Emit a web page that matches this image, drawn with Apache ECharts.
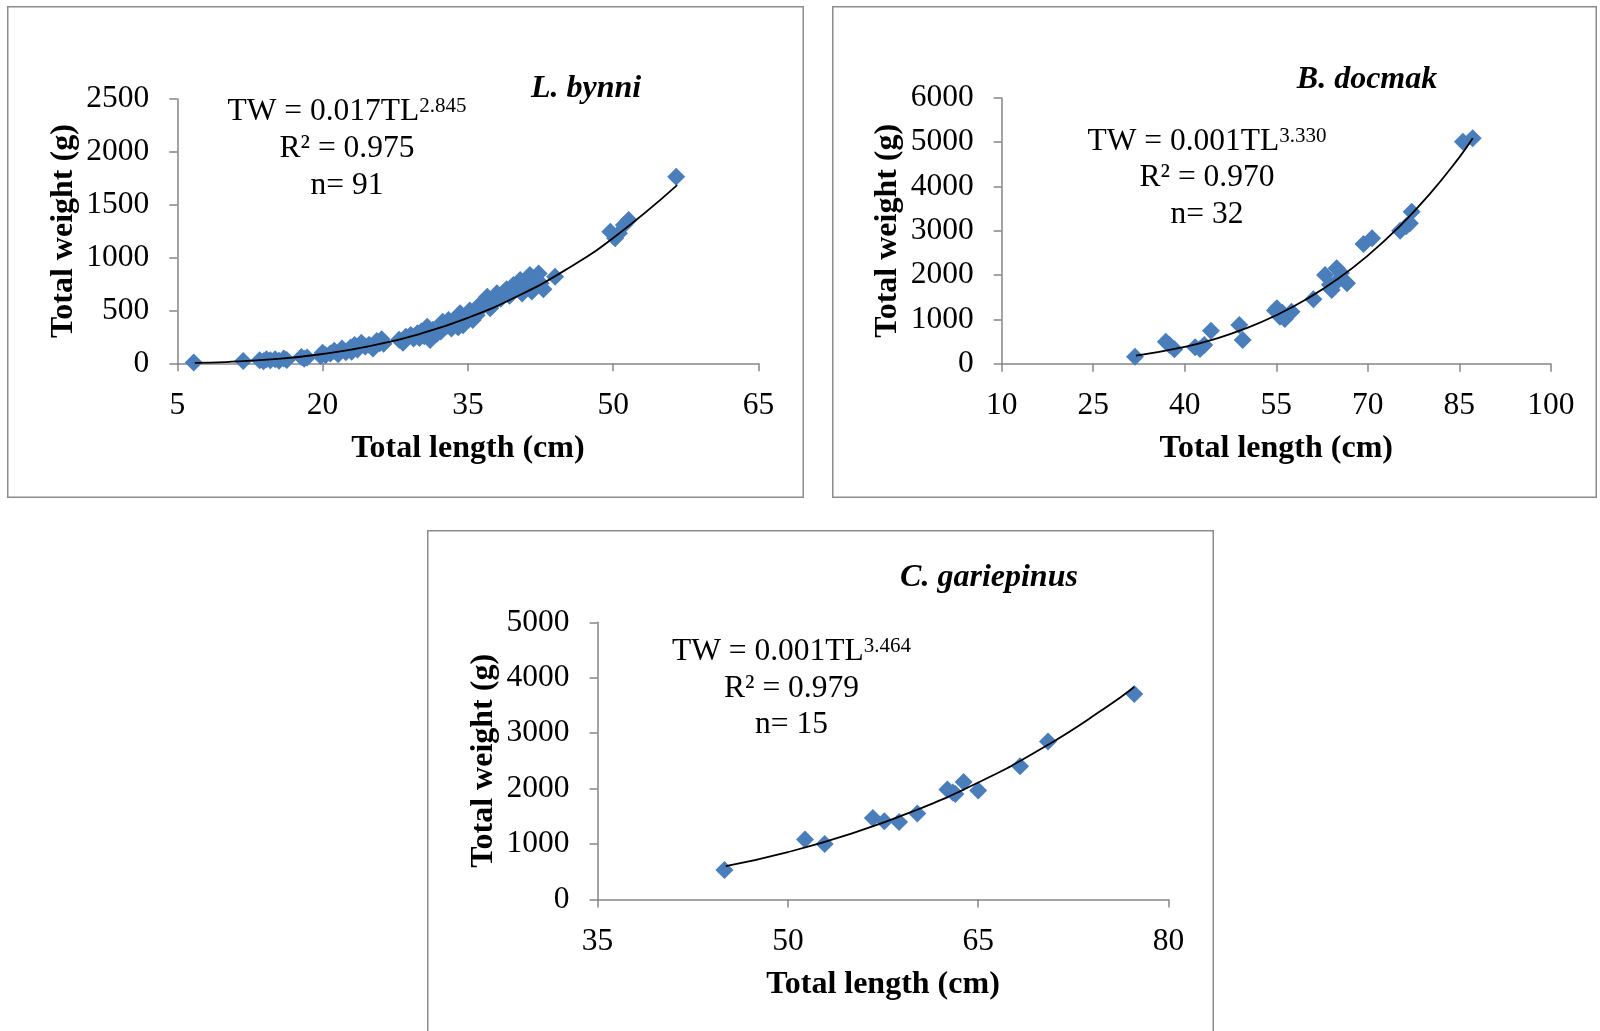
<!DOCTYPE html>
<html>
<head>
<meta charset="utf-8">
<title>Length–weight relationships</title>
<script src="https://cdn.jsdelivr.net/npm/echarts@6/dist/echarts.min.js"></script>
<style>
  html, body { margin: 0; padding: 0; background: #ffffff; }
  #chart { width: 1600px; height: 1031px; }
</style>
</head>
<body>
<div id="chart"></div>
<script>
// ---- L. bynni: total length (cm) vs total weight (g) ----
const bynniPoints = [
  [6.7, 8], [11.8, 22], [13.5, 30], [13.9, 20], [14.2, 38], [14.6, 28], [15.1, 38], [15.5, 25],
  [16.0, 45], [16.3, 32], [17.8, 60], [18.1, 42], [18.4, 55], [19.8, 70], [20.0, 100], [20.3, 75],
  [20.8, 92], [21.2, 118], [21.6, 85], [22.0, 140], [22.4, 105], [22.9, 150], [23.0, 110], [23.3, 172],
  [23.6, 130], [24.0, 195], [24.4, 160], [24.8, 175], [25.2, 140], [25.6, 210], [25.9, 190], [26.1, 228],
  [26.3, 185], [27.9, 222], [28.3, 195], [28.6, 250], [29.1, 268], [29.4, 235], [29.8, 284], [30.0, 240],
  [30.2, 300], [30.5, 255], [30.8, 346], [31.1, 220], [31.4, 318], [31.8, 280], [32.2, 300], [32.4, 394],
  [32.8, 350], [33.0, 410], [33.3, 330], [33.6, 380], [33.9, 441], [34.0, 340], [34.2, 473], [34.5, 360],
  [34.8, 420], [35.2, 500], [35.5, 410], [35.9, 455], [36.0, 490], [36.3, 560], [36.8, 600], [37.0, 630],
  [37.3, 520], [37.6, 560], [38.0, 662], [38.4, 610], [38.8, 680], [39.0, 700], [39.3, 640], [39.7, 741],
  [40.0, 700], [40.4, 788], [40.6, 660], [40.9, 720], [41.2, 760], [41.4, 835], [41.6, 680], [41.9, 804],
  [42.1, 740], [42.3, 850], [42.5, 757], [42.8, 700], [44.0, 819], [49.7, 1245], [50.2, 1182], [50.6, 1230],
  [51.1, 1308], [51.6, 1356], [56.5, 1765]
];
const bynniTrend = [
  [6.8, 4], [10, 12], [15, 39], [20, 88], [25, 165], [30, 277], [35, 430],
  [40, 629], [45, 879], [50, 1186], [56.6, 1686]
];
const bynniXTicks = { min: 5, max: 65, step: 15 };
const bynniYTicks = { min: 0, max: 2500, step: 500 };
const bynniText = ['L. bynni', 'TW = 0.017TL', '2.845', 'R² = 0.975', 'n= 91'];

// ---- B. docmak ----
const docmakPoints = [
  [31.85, 158], [36.9, 497], [37.5, 420], [38.3, 325], [41.7, 370], [42.5, 330], [43.2, 422], [44.3, 745],
  [48.95, 874], [49.5, 535], [54.8, 1200], [55.1, 1250], [55.6, 1061], [56.0, 1150], [56.4, 1009], [57.5, 1174],
  [61.1, 1454], [63.0, 2002], [63.8, 1780], [64.1, 1664], [64.9, 2153], [65.2, 1889], [65.6, 2050], [66.6, 1815],
  [69.3, 2702], [70.7, 2830], [75.3, 3003], [76.3, 3100], [76.9, 3169], [77.2, 3432], [85.6, 5011], [87.2, 5088]
];
const docmakTrend = [
  [32, 180], [40, 378], [45, 560], [50, 796], [55, 1093], [60, 1460], [65, 1906],
  [70, 2440], [75, 3070], [80, 3806], [85, 4658], [87.2, 5088]
];
const docmakXTicks = { min: 10, max: 100, step: 15 };
const docmakYTicks = { min: 0, max: 6000, step: 1000 };
const docmakText = ['B. docmak', 'TW = 0.001TL', '3.330', 'R² = 0.970', 'n= 32'];

// ---- C. gariepinus ----
const gariepinusPoints = [
  [45.0, 530], [51.35, 1081], [52.9, 1003], [56.7, 1472], [57.6, 1411], [58.76, 1400], [60.2, 1550],
  [62.57, 1982], [63.0, 1930], [63.2, 1904], [63.85, 2120], [65.0, 1964], [68.3, 2402], [70.5, 2852], [77.3, 3706]
];
const gariepinusTrend = [
  [45.1, 600], [50, 855], [55, 1188], [60, 1602], [65, 2110], [70, 2722], [75, 3452], [77.3, 3832]
];
const gariepinusXTicks = { min: 35, max: 80, step: 15 };
const gariepinusYTicks = { min: 0, max: 5000, step: 1000 };
const gariepinusText = ['C. gariepinus', 'TW = 0.001TL', '3.464', 'R² = 0.979', 'n= 15'];

const axisTitles = ['Total length (cm)', 'Total weight (g)'];

// ---- styling ----
const SERIF = "'Liberation Serif', 'Times New Roman', serif";
const AXIS_GREY = '#868686';
const FRAME_GREY = '#8c8c8c';
const MARKER_BLUE = '#4a7ebb';
const EQ_FONT = "31.5px " + SERIF;
const SUP_FONT = "21px " + SERIF;
const SPECIES_FONT = "italic bold 32px " + SERIF;

const measureCtx = document.createElement('canvas').getContext('2d');
function textWidth(str, font) {
  measureCtx.font = font;
  return measureCtx.measureText(str).width;
}

function textEl(x, y, text, font, align) {
  return {
    type: 'text', x: x, y: y, silent: true,
    style: {
      text: text, font: font, fill: '#000000',
      align: align, textAlign: align,
      verticalAlign: 'middle', textVerticalAlign: 'middle'
    }
  };
}

// species name, power equation with superscript exponent, R² and sample size
function panelText(t, nameX, nameY, cx, eqY, lineStep) {
  const wMain = textWidth(t[1], EQ_FONT);
  const wSup = textWidth(t[2], SUP_FONT);
  const left = cx - (wMain + wSup) / 2;
  return [
    textEl(nameX, nameY, t[0], SPECIES_FONT, 'center'),
    textEl(left, eqY, t[1], EQ_FONT, 'left'),
    textEl(left + wMain, eqY - 5.5, t[2], SUP_FONT, 'left'),
    textEl(cx, eqY + lineStep, t[3], EQ_FONT, 'center'),
    textEl(cx, eqY + 2 * lineStep, t[4], EQ_FONT, 'center')
  ];
}

function frame(x, y, w, h) {
  return {
    type: 'rect', silent: true,
    shape: { x: x, y: y, width: w, height: h },
    style: { fill: 'none', stroke: FRAME_GREY, lineWidth: 1.5 }
  };
}

function plainNumber(v) {
  return String(v);
}

function xAxisFor(idx, ticks) {
  return {
    type: 'value', gridIndex: idx,
    min: ticks.min, max: ticks.max, interval: ticks.step,
    name: axisTitles[0], nameLocation: 'middle', nameGap: 69,
    nameTextStyle: { fontFamily: SERIF, fontSize: 32, fontWeight: 'bold', color: '#000000' },
    axisLine: { show: true, onZero: false, lineStyle: { color: AXIS_GREY, width: 1.5 } },
    axisTick: { show: true, inside: false, length: 8, lineStyle: { color: AXIS_GREY, width: 1.5 } },
    axisLabel: {
      fontFamily: SERIF, fontSize: 31.5, color: '#000000', margin: 26,
      showMinLabel: true, showMaxLabel: true, formatter: plainNumber
    },
    splitLine: { show: false }
  };
}

function yAxisFor(idx, ticks) {
  return {
    type: 'value', gridIndex: idx,
    min: ticks.min, max: ticks.max, interval: ticks.step,
    name: axisTitles[1], nameLocation: 'middle', nameRotate: 90, nameGap: 97.5,
    nameTextStyle: { fontFamily: SERIF, fontSize: 32, fontWeight: 'bold', color: '#000000' },
    axisLine: { show: true, onZero: false, lineStyle: { color: AXIS_GREY, width: 1.5 } },
    axisTick: { show: true, inside: false, length: 8, lineStyle: { color: AXIS_GREY, width: 1.5 } },
    axisLabel: {
      fontFamily: SERIF, fontSize: 31.5, color: '#000000', margin: 28,
      padding: [4, 0, 0, 0],
      showMinLabel: true, showMaxLabel: true, formatter: plainNumber
    },
    splitLine: { show: false }
  };
}

function scatterFor(idx, pts) {
  return {
    type: 'scatter', xAxisIndex: idx, yAxisIndex: idx,
    data: pts, symbol: 'diamond', symbolSize: 18,
    itemStyle: { color: MARKER_BLUE, opacity: 1 },
    z: 2, silent: true
  };
}

function trendFor(idx, pts) {
  return {
    type: 'line', xAxisIndex: idx, yAxisIndex: idx,
    data: pts, smooth: true, symbol: 'none', showSymbol: false,
    lineStyle: { color: '#000000', width: 1.8 },
    z: 3, silent: true
  };
}

const chart = echarts.init(document.getElementById('chart'), null, { renderer: 'canvas' });

chart.setOption({
  backgroundColor: '#ffffff',
  animation: false,
  grid: [
    { left: 177.3, top: 99, width: 581.2, height: 264.3, containLabel: false },
    { left: 1001.7, top: 97.9, width: 549.1, height: 265.8, containLabel: false },
    { left: 597.6, top: 622.3, width: 570.9, height: 277.2, containLabel: false }
  ],
  xAxis: [xAxisFor(0, bynniXTicks), xAxisFor(1, docmakXTicks), xAxisFor(2, gariepinusXTicks)],
  yAxis: [yAxisFor(0, bynniYTicks), yAxisFor(1, docmakYTicks), yAxisFor(2, gariepinusYTicks)],
  series: [
    scatterFor(0, bynniPoints), trendFor(0, bynniTrend),
    scatterFor(1, docmakPoints), trendFor(1, docmakTrend),
    scatterFor(2, gariepinusPoints), trendFor(2, gariepinusTrend)
  ],
  graphic: [
    frame(7.75, 6.75, 795.5, 490.5),
    frame(832.75, 6.75, 763.5, 490.5),
    frame(427.75, 530.75, 785.5, 520)
  ]
    .concat(panelText(bynniText, 586, 88.5, 347, 112, 36.7))
    .concat(panelText(docmakText, 1367, 79.8, 1207, 142, 36.2))
    .concat(panelText(gariepinusText, 989, 578, 791.5, 652, 36.6))
});
</script>
</body>
</html>
